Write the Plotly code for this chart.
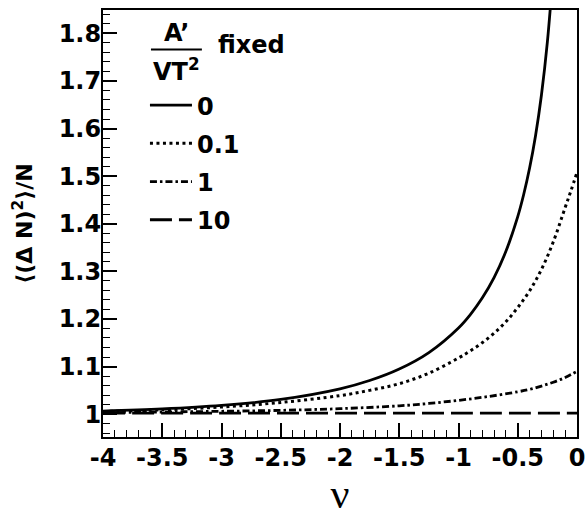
import plotly.graph_objects as go

# --- data ---
nu_solid = [-4, -3.5, -3, -2.5, -2, -1.75, -1.5, -1.25, -1, -0.9, -0.8, -0.7,
            -0.6, -0.5, -0.45, -0.4, -0.35, -0.3, -0.25, -0.2]
val_solid = [1.0065, 1.0109, 1.0183, 1.0309, 1.0532, 1.0706, 1.0948, 1.1294,
             1.1811, 1.2093, 1.2438, 1.2868, 1.3420, 1.4150, 1.4614, 1.5169,
             1.5850, 1.6705, 1.7818, 1.9346]

nu_dot = [-4, -3.5, -3, -2.5, -2, -1.75, -1.5, -1.25, -1, -0.9, -0.8, -0.7,
          -0.6, -0.5, -0.4, -0.3, -0.2, -0.1, -0.05, 0]
val_dot = [1.0055, 1.0090, 1.0150, 1.0245, 1.0390, 1.0500, 1.0640, 1.0860,
           1.1180, 1.1330, 1.1500, 1.1700, 1.1940, 1.2240, 1.2590, 1.3040,
           1.3620, 1.4340, 1.4700, 1.5080]

nu_dashdot = [-4, -3.5, -3, -2.5, -2, -1.5, -1.25, -1, -0.75, -0.5, -0.4,
              -0.3, -0.2, -0.1, 0]
val_dashdot = [1.003, 1.0045, 1.006, 1.008, 1.0115, 1.0175, 1.0225, 1.029,
               1.037, 1.047, 1.052, 1.059, 1.067, 1.077, 1.090]

nu_dash = [-4, -3, -2, -1, 0]
val_dash = [1.002, 1.002, 1.002, 1.002, 1.002]

series_names = ["0", "0.1", "1", "10"]

x_tickvals = [-4, -3.5, -3, -2.5, -2, -1.5, -1, -0.5, 0]
x_ticktext = ["-4", "-3.5", "-3", "-2.5", "-2", "-1.5", "-1", "-0.5", "0"]
y_tickvals = [1.0, 1.1, 1.2, 1.3, 1.4, 1.5, 1.6, 1.7, 1.8]
y_ticktext = ["1", "1.1", "1.2", "1.3", "1.4", "1.5", "1.6", "1.7", "1.8"]

# --- figure ---
W, H = 587, 517
ML, MR, MT, MB = 103, 9.5, 10, 80.3
PW = W - ML - MR
PH = H - MT - MB


def px(xp):
    return (xp - ML) / PW


def py(yp):
    return (H - MB - yp) / PH


FONT = "DejaVu Sans"
LW = 2.8

fig = go.Figure()
styles = [
    dict(dash="solid", width=LW),
    dict(dash="3px,3.5px", width=3),
    dict(dash="7px,3px,2.5px,3px", width=LW),
    dict(dash="22px,7px", width=LW),
]
data = [(nu_solid, val_solid), (nu_dot, val_dot),
        (nu_dashdot, val_dashdot), (nu_dash, val_dash)]
for i, ((xs, ys), st, name) in enumerate(zip(data, styles, series_names)):
    fig.add_trace(go.Scatter(
        x=xs, y=ys, mode="lines", name=name, legendgroup="g%d" % i,
        line=dict(color="black", width=st["width"], dash=st["dash"],
                  shape="spline", smoothing=1.0),
        hoverinfo="skip",
    ))

axis_common = dict(
    showline=True, linecolor="black", linewidth=2, mirror=True,
    ticks="inside", ticklen=14, tickwidth=1.5, tickcolor="black",
    showgrid=False, zeroline=False, automargin=False,
    tickfont=dict(family=FONT, size=24, color="black", weight="bold"),
    tickmode="array", ticklabeloverflow="allow",
)

fig.update_xaxes(
    **axis_common, range=[-4, 0],
    tickvals=x_tickvals, ticktext=x_ticktext, ticklabelstandoff=-2,
    minor=dict(tick0=-4, dtick=0.1, ticks="inside", ticklen=7,
               tickwidth=1.2, tickcolor="black", showgrid=False),
    title=dict(text="ν", font=dict(family="Liberation Serif", size=42,
                                   color="black"), standoff=2),
)
fig.update_yaxes(
    **axis_common, range=[0.952, 1.849],
    tickvals=y_tickvals, ticktext=y_ticktext, ticklabelstandoff=-5,
    minor=dict(tick0=1.0, dtick=0.02, ticks="inside", ticklen=7,
               tickwidth=1.2, tickcolor="black", showgrid=False),
    title=dict(text="⟨(Δ N)<sup>2</sup>⟩/N",
               font=dict(family=FONT, size=22, color="black", weight="bold"),
               standoff=20),
)

fig.update_layout(
    width=W, height=H,
    margin=dict(l=ML, r=MR, t=MT, b=MB, autoexpand=False),
    paper_bgcolor="white", plot_bgcolor="white",
    showlegend=True,
    legend=dict(
        x=px(145), y=py(83), xanchor="left", yanchor="top",
        bgcolor="rgba(0,0,0,0)", borderwidth=0,
        font=dict(family=FONT, size=24, color="black", weight="bold"),
        itemwidth=42, tracegroupgap=4,
    ),
)

ann_font = dict(family=FONT, size=24, color="black", weight="bold")
fig.add_annotation(x=px(177), y=py(33), xref="paper", yref="paper",
                   text="A’", showarrow=False, font=ann_font,
                   xanchor="center", yanchor="middle")
fig.add_annotation(x=px(177), y=py(70), xref="paper", yref="paper",
                   text="VT<sup>2</sup>", showarrow=False, font=ann_font,
                   xanchor="center", yanchor="middle")
fig.add_annotation(x=px(216), y=py(45), xref="paper", yref="paper",
                   text="fixed", showarrow=False, font=ann_font,
                   xanchor="left", yanchor="middle")
fig.add_shape(type="line", xref="paper", yref="paper",
              x0=px(151), x1=px(202), y0=py(49.5), y1=py(49.5),
              line=dict(color="black", width=2))

fig.write_html("out.html",
               config={"displayModeBar": False},
               post_script="document.body.style.margin='0';"
                           "document.body.style.overflow='hidden';")
